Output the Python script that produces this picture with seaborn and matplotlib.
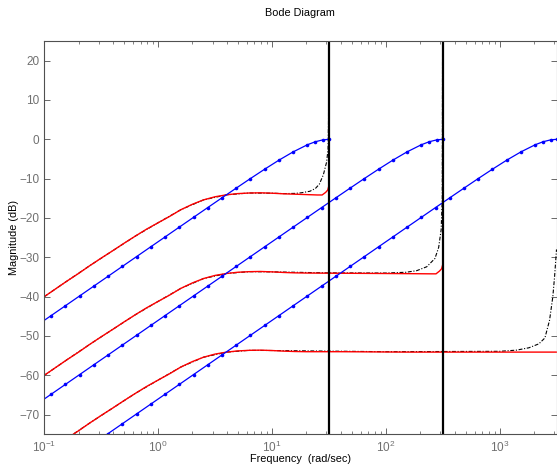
import matplotlib
matplotlib.use("Agg")
import matplotlib.pyplot as plt
import seaborn as sns

# ---- data ----
blue_w1 = [0.1, 0.1148, 0.1531, 0.2042, 0.2723, 0.3631, 0.4842, 0.6457, 0.861, 1.148, 1.531, 2.042,
           2.723, 3.631, 4.842, 6.457, 8.61, 11.48, 15.31, 20.42, 23.99, 27.99, 31.42]
blue_db1 = [-46.02, -44.82, -42.32, -39.82, -37.32, -34.82, -32.32, -29.82, -27.32, -24.83, -22.33, -19.84,
            -17.35, -14.87, -12.41, -9.97, -7.59, -5.30, -3.19, -1.38, -0.61, -0.13, 0.0]

blue_w2 = [0.1, 0.1148, 0.1531, 0.2042, 0.2723, 0.3631, 0.4842, 0.6457, 0.861, 1.148, 1.531, 2.042,
           2.723, 3.631, 4.842, 6.457, 8.61, 11.48, 15.31, 20.42, 27.23, 36.31, 48.42, 64.57, 86.1,
           114.8, 153.1, 204.2, 239.9, 279.9, 314.2]
blue_db2 = [-66.02, -64.82, -62.32, -59.82, -57.32, -54.82, -52.32, -49.82, -47.32, -44.82, -42.32, -39.82,
            -37.32, -34.82, -32.32, -29.82, -27.32, -24.83, -22.33, -19.84, -17.35, -14.87, -12.41, -9.97,
            -7.59, -5.30, -3.19, -1.38, -0.61, -0.13, 0.0]

blue_w3 = [0.2042, 0.2723, 0.3631, 0.4842, 0.6457, 0.861, 1.148, 1.531, 2.042, 2.723, 3.631, 4.842,
           6.457, 8.61, 11.48, 15.31, 20.42, 27.23, 36.31, 48.42, 64.57, 86.1, 114.8, 153.1, 204.2,
           272.3, 363.1, 484.2, 645.7, 861.0, 1148.0, 1531.0, 2042.0, 2399.0, 2799.0, 3142.0]
blue_db3 = [-79.82, -77.32, -74.82, -72.32, -69.82, -67.32, -64.82, -62.32, -59.82, -57.32, -54.82, -52.32,
            -49.82, -47.32, -44.82, -42.32, -39.82, -37.32, -34.82, -32.32, -29.82, -27.32, -24.83, -22.33,
            -19.84, -17.35, -14.87, -12.41, -9.97, -7.59, -5.30, -3.19, -1.38, -0.61, -0.13, 0.0]

red_w1 = [0.1, 0.126, 0.158, 0.2, 0.25, 0.316, 0.4, 0.5, 0.63, 0.79, 1.0, 1.26, 1.58, 2.0, 2.5, 3.16,
          4.0, 5.0, 6.3, 7.9, 10, 12.6, 15.8, 20, 25, 27.5, 29.5, 30.8, 31.4]
red_db1 = [-40.0, -38.0, -36.05, -34.1, -32.15, -30.2, -28.3, -26.45, -24.6, -22.85, -21.2, -19.6, -17.9,
           -16.5, -15.4, -14.6, -14.1, -13.8, -13.65, -13.6, -13.7, -13.85, -13.95, -14.05, -14.15,
           -14.15, -13.5, -12.9, -12.0]

red_w2 = [0.1, 0.126, 0.158, 0.2, 0.25, 0.316, 0.4, 0.5, 0.63, 0.79, 1.0, 1.26, 1.58, 2.0, 2.5, 3.16,
          4.0, 5.0, 6.3, 7.9, 10, 12.6, 15.8, 20, 40, 80, 150, 250, 275, 295, 308, 314]
red_db2 = [-60.0, -58.0, -56.05, -54.1, -52.15, -50.2, -48.3, -46.45, -44.6, -42.85, -41.2, -39.6, -37.9,
           -36.5, -35.4, -34.6, -34.1, -33.8, -33.65, -33.6, -33.7, -33.85, -33.95, -34.0, -34.05,
           -34.1, -34.15, -34.2, -34.2, -33.5, -32.9, -32.0]

red_w3 = [0.1, 0.126, 0.158, 0.2, 0.25, 0.316, 0.4, 0.5, 0.63, 0.79, 1.0, 1.26, 1.58, 2.0, 2.5, 3.16,
          4.0, 5.0, 6.3, 7.9, 10, 12.6, 15.8, 20, 40, 80, 150, 300, 1000, 3142]
red_db3 = [-80.0, -78.0, -76.05, -74.1, -72.15, -70.2, -68.3, -66.45, -64.6, -62.85, -61.2, -59.6, -57.9,
           -56.5, -55.4, -54.6, -54.1, -53.8, -53.65, -53.6, -53.7, -53.85, -53.95, -54.0, -54.0,
           -54.05, -54.1, -54.1, -54.1, -54.1]

black_w1 = [0.1, 0.158, 0.25, 0.4, 0.63, 1.0, 1.58, 2.5, 4.0, 6.3, 10, 12.6, 15.8, 18, 21.5, 24, 26,
            28.2, 30.1, 31.0, 31.3, 31.4]
black_db1 = [-40.0, -36.05, -32.15, -28.3, -24.6, -21.2, -17.9, -15.4, -14.1, -13.65, -13.7, -13.8,
             -13.75, -13.6, -13.2, -12.5, -11.4, -9.0, -5.8, -2.5, 5.0, 30.0]

black_w2 = [0.1, 0.158, 0.25, 0.4, 0.63, 1.0, 1.58, 2.5, 4.0, 6.3, 10, 30, 100, 150, 186, 228, 269,
            290, 305, 312, 314.2]
black_db2 = [-60.0, -56.05, -52.15, -48.3, -44.6, -41.2, -37.9, -35.4, -34.1, -33.65, -33.7, -33.95,
             -34.0, -33.8, -33.4, -32.4, -30.3, -27.5, -23.0, -15.0, 30.0]

black_w3 = [0.158, 0.25, 0.4, 0.63, 1.0, 1.58, 2.5, 4.0, 6.3, 10, 100, 1000, 1400, 1800, 2200, 2485,
            2730, 2917, 3020, 3090, 3142]
black_db3 = [-76.05, -72.15, -68.3, -64.6, -61.2, -57.9, -55.4, -54.1, -53.65, -53.7, -54.0, -53.9,
             -53.6, -53.0, -52.0, -50.5, -46.0, -40.0, -35.0, -31.0, -28.0]

nyquist = [31.416, 314.16]
x_ticks = [0.1, 1, 10, 100, 1000]
y_ticks = [20, 10, 0, -10, -20, -30, -40, -50, -60, -70]

# ---- plotting ----
sns.set_style("ticks")
plt.rcParams["font.family"] = ["Liberation Sans", "DejaVu Sans"]
plt.rcParams["mathtext.fontset"] = "custom"
plt.rcParams["mathtext.rm"] = "Liberation Sans"
plt.rcParams["mathtext.it"] = "Liberation Sans:italic"

fig = plt.figure(figsize=(5.57, 4.70), dpi=100)
ax = fig.add_axes([44.3 / 557, 1 - 434.3 / 470, (556.5 - 44.3) / 557, (434.3 - 41) / 470])

dash = (0, (3.5, 1.5, 1, 1.5))
for w, d in [(black_w1, black_db1), (black_w2, black_db2), (black_w3, black_db3)]:
    sns.lineplot(x=w, y=d, ax=ax, color="black", lw=0.8, linestyle=dash, sort=False, estimator=None)

for w, d in [(red_w1, red_db1), (red_w2, red_db2), (red_w3, red_db3)]:
    sns.lineplot(x=w, y=d, ax=ax, color="#ff0000", lw=1.0, sort=False, estimator=None)

for w, d, me in [(blue_w1, blue_db1, slice(1, None)), (blue_w2, blue_db2, slice(1, None)),
                 (blue_w3, blue_db3, slice(0, None))]:
    sns.lineplot(x=w, y=d, ax=ax, color="#0000ff", lw=0.9, marker="o", markersize=2.6,
                 markeredgewidth=0, markevery=me, sort=False, estimator=None)

for nq in nyquist:
    ax.axvline(nq, color="black", lw=1.6)

ax.set_xscale("log")
ax.set_xlim(0.1, 3141.6)
ax.set_ylim(-75, 25)
ax.set_xticks(x_ticks)
ax.set_yticks(y_ticks)

spine_col = "#505050"
for s in ax.spines.values():
    s.set_color(spine_col)
    s.set_linewidth(0.8)
ax.tick_params(which="both", direction="in", top=True, right=True, colors=spine_col,
               labelcolor="#707070", labelsize=8.5)
ax.tick_params(which="major", length=4, width=0.6)
ax.tick_params(which="minor", length=2.2, width=0.5)
ax.tick_params(axis="x", pad=4)

ax.set_xlabel("Frequency  (rad/sec)", fontsize=7.8, color="black", labelpad=-0.5)
ax.set_ylabel("Magnitude (dB)", fontsize=7.8, color="black", labelpad=0)
ax.set_title("Bode Diagram", fontsize=7.8, color="black", pad=18)

fig.savefig("out.png", dpi=100)
